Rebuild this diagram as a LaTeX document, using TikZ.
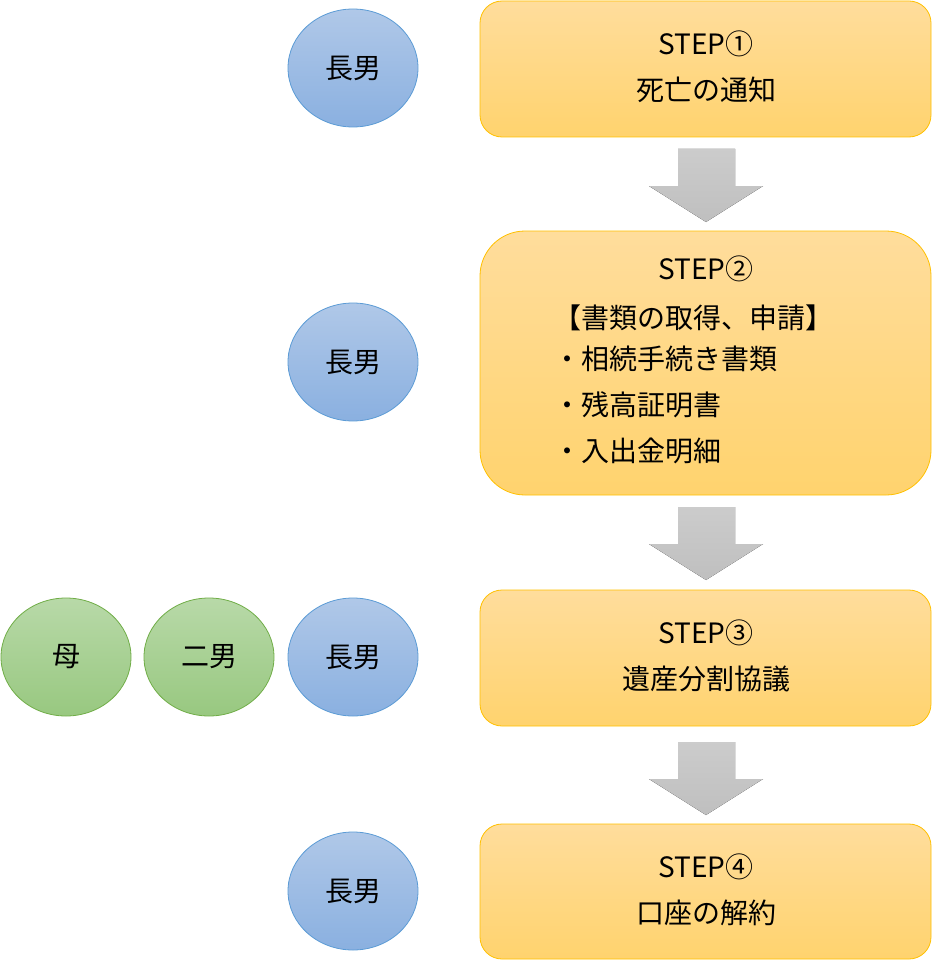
\documentclass[tikz,border=0pt]{standalone}
\usepackage{fontspec}
\setmainfont{Noto Sans CJK JP}
\usetikzlibrary{shapes.geometric}
\definecolor{ob}{HTML}{FFC000}
\definecolor{otop}{HTML}{FFDD9C}
\definecolor{obot}{HTML}{FFD36E}
\definecolor{bb}{HTML}{5B9BD5}
\definecolor{btop}{HTML}{B0C8E8}
\definecolor{bbot}{HTML}{8AB0E0}
\definecolor{gb}{HTML}{70AD47}
\definecolor{gtop}{HTML}{B8D9A8}
\definecolor{gbot}{HTML}{98C880}
\definecolor{ar}{HTML}{BFBFBF}
\begin{document}
\begin{tikzpicture}[x=1pt,y=-1pt,
 stepbox/.style={draw=ob,line width=0.8pt,top color=otop,bottom color=obot},
 bluec/.style={ellipse,draw=bb,line width=0.8pt,top color=btop,bottom color=bbot,minimum width=130pt,minimum height=118pt,font=\fontsize{28}{32}\selectfont},
 greenc/.style={ellipse,draw=gb,line width=0.8pt,top color=gtop,bottom color=gbot,minimum width=130pt,minimum height=118pt,font=\fontsize{28}{32}\selectfont},
 txt/.style={font=\fontsize{28}{32}\selectfont,inner sep=0pt},
 garrow/.style={top color=ar!80!white,bottom color=ar,draw=none}]
\useasboundingbox (0,0) rectangle (932,960);
\draw[stepbox,rounded corners=22pt] (480,1) rectangle (931,137);
\draw[stepbox,rounded corners=45pt] (480,231) rectangle (931,495);
\draw[stepbox,rounded corners=22pt] (480,590) rectangle (931,726);
\draw[stepbox,rounded corners=22pt] (480,824) rectangle (931,959);
\node[txt] (s1a) at (706,44) {STEP①};
\node[txt] (s1b) at (706,90) {死亡の通知};
\node[txt] (s2a) at (706,269) {STEP②};
\node[txt] (s2b) at (693,318) {【書類の取得、申請】};
\node[txt,anchor=west] (s2c) at (553,359) {・相続手続き書類};
\node[txt,anchor=west] (s2d) at (553,405) {・残高証明書};
\node[txt,anchor=west] (s2e) at (553,451) {・入出金明細};
\node[txt] (s3a) at (706,633) {STEP③};
\node[txt] (s3b) at (706,679) {遺産分割協議};
\node[txt] (s4a) at (706,867) {STEP④};
\node[txt] (s4b) at (706,913) {口座の解約};
\foreach \y in {149,507,742}{
 \fill[garrow] (678,\y) -- (735,\y) -- (735,\y+37) -- (763,\y+37) -- (706,\y+73) -- (649,\y+37) -- (678,\y+37) -- cycle;}
\node[bluec] (c1) at (353,68) {長男};
\node[bluec] (c2) at (353,362) {長男};
\node[bluec] (c3) at (353,657) {長男};
\node[bluec] (c4) at (353,891) {長男};
\node[greenc] (g1) at (66,657) {母};
\node[greenc] (g2) at (209,657) {二男};
\end{tikzpicture}
\end{document}
